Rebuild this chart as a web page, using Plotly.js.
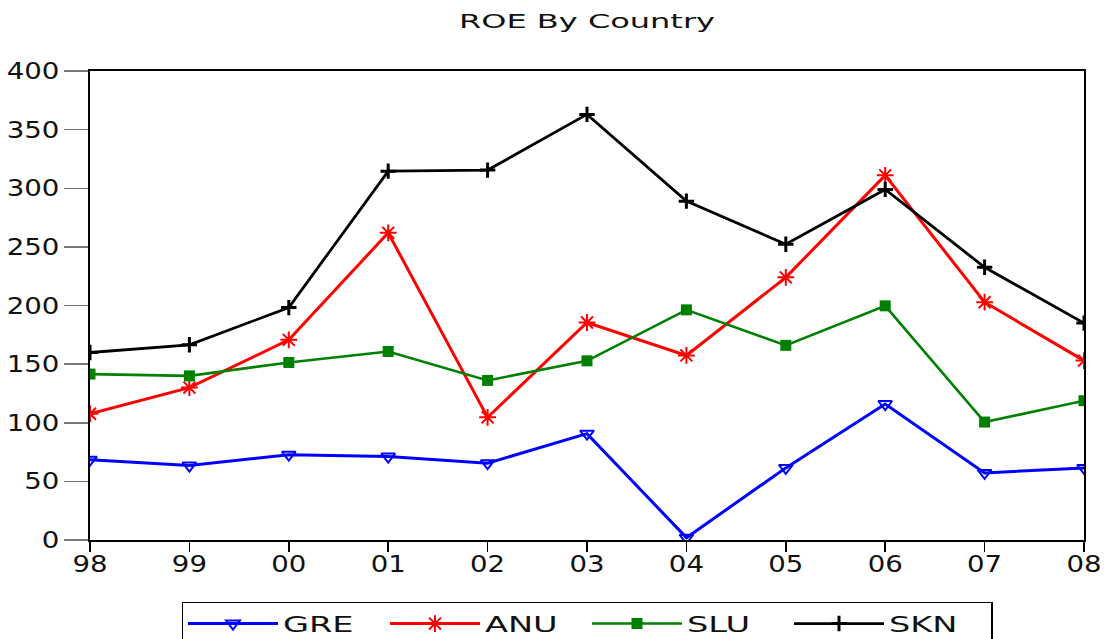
<!DOCTYPE html>
<html>
<head>
<meta charset="utf-8">
<script src="https://cdn.plot.ly/plotly-3.0.1.min.js"></script>
<style>
  html, body { margin: 0; padding: 0; background: #fff; }
  #chart { width: 1106px; height: 639px; }
</style>
</head>
<body>
<div id="chart"></div>
<script>
// ---- data ----
const years = [1998, 1999, 2000, 2001, 2002, 2003, 2004, 2005, 2006, 2007, 2008];
const yearLabels = ["98", "99", "00", "01", "02", "03", "04", "05", "06", "07", "08"];
const gre = [68.5, 63.5, 72.8, 71.2, 65.5, 90.7, 2, 61.5, 116, 57.2, 61.5];
const anu = [107.7, 130, 170.7, 262, 104.6, 185.5, 157.4, 224, 311, 202.8, 153];
const slu = [141.5, 140, 151.4, 160.8, 136.1, 152.8, 196.3, 166, 199.7, 100.6, 118.8];
const skn = [159.9, 166.5, 198.2, 314.6, 315.5, 363, 289, 252.2, 299, 232.6, 185];
const yTicks = [0, 50, 100, 150, 200, 250, 300, 350, 400];

const traces = [
  { name: "GRE", x: years, y: gre, mode: "lines+markers",
    line: { color: "#0000ff", width: 3 },
    marker: { symbol: "triangle-down-open", size: 12, color: "#0000ff", line: { width: 2, color: "#0000ff" } } },
  { name: "ANU", x: years, y: anu, mode: "lines+markers",
    line: { color: "#ff0000", width: 3 },
    marker: { symbol: "asterisk-open", size: 14, color: "#ff0000", line: { width: 2, color: "#ff0000" } } },
  { name: "SLU", x: years, y: slu, mode: "lines+markers",
    line: { color: "#008000", width: 2.6 },
    marker: { symbol: "square", size: 11, color: "#008000" } },
  { name: "SKN", x: years, y: skn, mode: "lines+markers",
    line: { color: "#000000", width: 2.8 },
    marker: { symbol: "cross-thin-open", size: 11, color: "#000000", line: { width: 3, color: "#000000" } } }
];

const layout = {
  width: 1106, height: 639,
  paper_bgcolor: "#ffffff", plot_bgcolor: "#ffffff",
  margin: { l: 90, r: 22, t: 71, b: 99, autoexpand: false },
  font: { family: "DejaVu Sans, Liberation Sans, Arial, sans-serif", color: "#111111", size: 21 },
  title: { text: "ROE By Country", x: 0.5, xref: "paper", xanchor: "center",
           y: 1 - 21 / 639, yref: "container", yanchor: "middle",
           font: { size: 20, color: "#111111" } },
  showlegend: true,
  legend: { orientation: "h", x: 0.5, xanchor: "center", y: -0.132, yanchor: "top",
            bordercolor: "#000000", borderwidth: 1.5, bgcolor: "#ffffff",
            font: { size: 21, color: "#111111" },
            entrywidth: 97, entrywidthmode: "pixels", itemwidth: 90,
            traceorder: "normal" },
  xaxis: { range: [1998, 2008], tickvals: years, ticktext: yearLabels,
           showgrid: false, zeroline: false, showline: true, mirror: true,
           linecolor: "#000000", linewidth: 2, ticks: "outside", ticklen: 10,
           tickwidth: 1.5, tickcolor: "#000000", tickfont: { size: 23, color: "#111111" },
           ticklabelstandoff: -8, fixedrange: true },
  yaxis: { range: [0, 400], tickvals: yTicks,
           showgrid: false, zeroline: false, showline: true, mirror: true,
           linecolor: "#000000", linewidth: 2, ticks: "outside", ticklen: 24,
           tickwidth: 1.5, tickcolor: "#777777", tickfont: { size: 23, color: "#111111" },
           fixedrange: true }
};

// widen glyphs horizontally, as in the reference (text stays real text)
function stretch(sel, factor) {
  document.querySelectorAll(sel).forEach(function (t) {
    if (t.getAttribute("data-stretched")) return;
    const len = t.getComputedTextLength();
    if (len > 0) {
      t.setAttribute("textLength", (len * factor).toFixed(1));
      t.setAttribute("lengthAdjust", "spacingAndGlyphs");
      t.setAttribute("data-stretched", "1");
    }
  });
}

Plotly.newPlot("chart", traces, layout, { displayModeBar: false, staticPlot: true }).then(function () {
  stretch(".gtitle", 1.6);
  stretch(".legendtext", 1.6);
  stretch(".xtick text", 1.2);
  stretch(".ytick text", 1.2);
});
</script>
</body>
</html>
